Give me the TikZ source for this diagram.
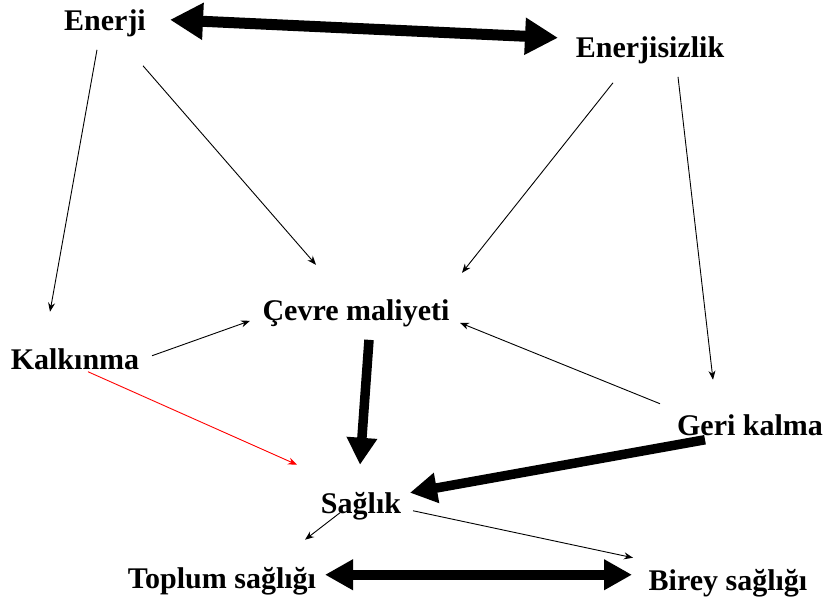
\documentclass[tikz,border=0pt]{standalone}
\usepackage{fontspec}
\setmainfont{Liberation Serif}
\usetikzlibrary{arrows.meta,calc}
\begin{document}
\begin{tikzpicture}[x=1pt,y=-1pt,
  lbl/.style={anchor=base,inner sep=0pt,font=\fontsize{30}{32}\selectfont\bfseries},
  thin arrow/.style={line width=0.9pt,-{Stealth[length=9pt,width=7pt]}},
  red arrow/.style={thin arrow,red},
  thick arrow/.style={line width=9.5pt,-{Triangle[length=27pt,width=29pt]}},
  big both/.style={line width=11pt,{Triangle[length=33pt,width=35pt]}-{Triangle[length=33pt,width=35pt]}},
  thick both/.style={line width=10pt,{Triangle[length=28pt,width=29pt]}-{Triangle[length=28pt,width=29pt]}}]
\useasboundingbox (0,0) rectangle (829,599);
% concepts
\node[lbl] (en)   at (105,31)  {Enerji};
\node[lbl] (ens)  at (650,58)  {Enerjisizlik};
\node[lbl] (cev)  at (356,320) {Çevre maliyeti};
\node[lbl] (kal)  at (75,369)  {Kalkınma};
\node[lbl] (geri) at (750,435) {Geri kalma};
\node[lbl] (sag)  at (361,513) {Sağlık};
\node[lbl] (top)  at (222,588) {Toplum sağlığı};
\node[lbl] (bir)  at (728,590) {Birey sağlığı};
% strong two-way links
\draw[big both] ($(en)+(65,-4)$) -- ($(ens)+(-92,-13)$);
\draw[thick both] ($(top)+(103,-6)$) -- ($(bir)+(-96,-8)$);
% influences
\draw[thin arrow] ($(en)+(-8,26)$) -- ($(kal)+(-25,-47)$);
\draw[thin arrow] ($(en)+(38,42)$) -- ($(cev)+(-40,-48)$);
\draw[thin arrow] ($(ens)+(-37,32)$) -- ($(cev)+(106,-40)$);
\draw[thin arrow] ($(ens)+(28,26)$) -- ($(geri)+(-37,-45)$);
\draw[thin arrow] ($(kal)+(77,-3)$) -- ($(cev)+(-106,8)$);
\draw[thin arrow] ($(geri)+(-90,-21)$) -- ($(cev)+(104,10)$);
\draw[red arrow] ($(kal)+(13,13)$) -- ($(sag)+(-64,-41)$);
\draw[thick arrow] ($(cev)+(13,27)$) -- ($(sag)+(-1,-41)$);
\draw[thick arrow] ($(geri)+(-45,15)$) -- ($(sag)+(49,-13)$);
\draw[thin arrow] ($(sag)+(-21,7)$) -- ($(top)+(83,-41)$);
\draw[thin arrow] ($(sag)+(52,5)$) -- ($(bir)+(-95,-25)$);
\end{tikzpicture}
\end{document}
